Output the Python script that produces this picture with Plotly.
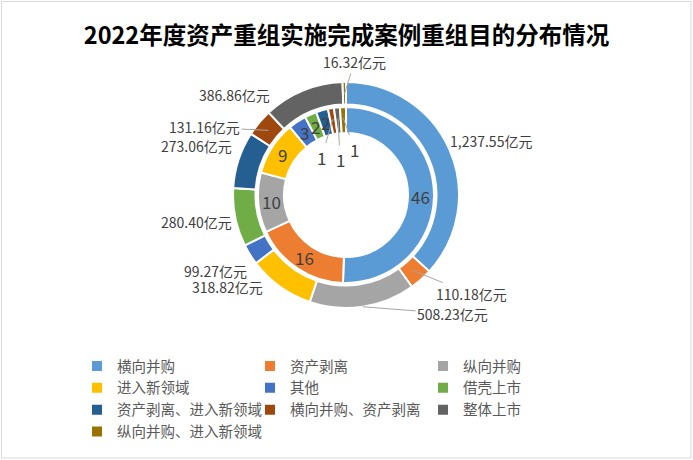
import numpy as np
import plotly.graph_objects as go

# ---- data ----
categories = ["横向并购", "资产剥离", "纵向并购", "进入新领域", "其他", "借壳上市",
              "资产剥离、进入新领域", "横向并购、资产剥离", "整体上市", "纵向并购、进入新领域"]
case_counts = [46, 16, 10, 9, 3, 2, 2, 1, 1, 1]
amounts = [1237.55, 110.18, 508.23, 318.82, 99.27, 280.40, 273.06, 131.16, 386.86, 16.32]
amount_labels = ["1,237.55亿元", "110.18亿元", "508.23亿元", "318.82亿元", "99.27亿元",
                 "280.40亿元", "273.06亿元", "131.16亿元", "386.86亿元", "16.32亿元"]
title_text = "2022年度资产重组实施完成案例重组目的分布情况"

# ---- styles ----
colors = ["#5B9BD5", "#ED7D31", "#A5A5A5", "#FFC000", "#4472C4", "#70AD47",
          "#255E91", "#9E480E", "#636363", "#997300"]
W, H = 693, 460
MR = 130                   # right margin (only to make the legend wrap into 3 columns)
PW = W - MR
CX, CY = 346, 195          # pie centre (pixels)
R_OUT, R_OUT_IN = 113, 90.5
R_IN, R_IN_IN = 88, 62
FONT = "Noto Sans CJK SC"
LBL = "#404040"

def px(x):
    return x / PW

def py(y):
    return 1 - y / H

def dom(r):
    return dict(x=[px(CX - r), px(CX + r)], y=[py(CY + r), py(CY - r)])

def mid_angles(vals):
    v = np.asarray(vals, dtype=float)
    c = np.cumsum(v)
    return (c - v / 2) / v.sum() * 2 * np.pi

def pt(theta, r):
    return CX + r * np.sin(theta), CY - r * np.cos(theta)

fig = go.Figure()
fig.add_trace(go.Pie(
    labels=categories, values=amounts, sort=False, direction="clockwise",
    hole=R_OUT_IN / R_OUT, domain=dom(R_OUT), textinfo="none",
    marker=dict(colors=colors, line=dict(color="white", width=2)),
    showlegend=False, hoverinfo="label+value"))
fig.add_trace(go.Pie(
    labels=categories, values=case_counts, sort=False, direction="clockwise",
    hole=R_IN_IN / R_IN, domain=dom(R_IN), textinfo="none",
    marker=dict(colors=colors, line=dict(color="white", width=2)),
    showlegend=True, hoverinfo="label+value"))

annotations = []
# outer ring labels: (anchor radius, dx, dy, line)
outer_place = [(113, 41.5, -8.6, False), (101, 58, 23.5, True), (113, 90, 7, True),
               (113, -52, 0, False), (113, -34, 16, False), (113, -39, 4.5, False),
               (113, -42.6, -14, False), (101, -64, -3, True), (113, -68, 4.4, False),
               (101, 10, -32, True)]
for th, txt, (r, dx, dy, line) in zip(mid_angles(amounts), amount_labels, outer_place):
    x, y = pt(th, r)
    a = dict(x=px(x), y=py(y), xref="paper", yref="paper", text=txt,
             font=dict(family=FONT, size=14, color=LBL))
    if line:
        a.update(showarrow=True, ax=dx, ay=dy, arrowhead=0, arrowwidth=1,
                 arrowcolor="#A6A6A6", standoff=0)
    else:
        a.update(showarrow=False, xshift=dx, yshift=-dy,
                 xanchor="center", yanchor="middle")
    annotations.append(a)

# inner ring labels
inner_place = [(75, 0, 0, False)] * 7 + [(77, -11, 38, True), (77, 2, 41, True), (77, 11, 31, True)]
for th, n, (r, dx, dy, line) in zip(mid_angles(case_counts), case_counts, inner_place):
    x, y = pt(th, r)
    a = dict(x=px(x), y=py(y), xref="paper", yref="paper", text=str(n),
             font=dict(family=FONT, size=17, color=LBL))
    if line:
        a.update(showarrow=True, ax=dx, ay=dy, arrowhead=0, arrowwidth=1,
                 arrowcolor="#A6A6A6", standoff=0)
    else:
        a.update(showarrow=False, xshift=dx, yshift=-dy,
                 xanchor="center", yanchor="middle")
    annotations.append(a)

fig.update_layout(
    width=W, height=H, margin=dict(l=0, r=MR, t=0, b=0, autoexpand=False),
    paper_bgcolor="white", plot_bgcolor="white",
    title=dict(text="<b>" + title_text + "</b>", x=0.5, xanchor="center", xref="container",
               y=1 - 36 / H, yanchor="middle", yref="container",
               font=dict(family=FONT, size=23.5, color="black")),
    legend=dict(orientation="h", x=px(77), xanchor="left", y=py(350), yanchor="top",
                entrywidth=128, entrywidthmode="pixels",
                font=dict(family=FONT, size=14.5, color="#595959"),
                traceorder="normal"),
    annotations=annotations,
    shapes=[dict(type="rect", xref="paper", yref="paper",
                 x0=px(1.5), x1=px(691), y0=py(458), y1=py(1.5),
                 line=dict(color="#D9D9D9", width=1))],
)

fig.write_html("out.html", config={"displayModeBar": False},
               post_script="document.body.style.margin='0px';")
